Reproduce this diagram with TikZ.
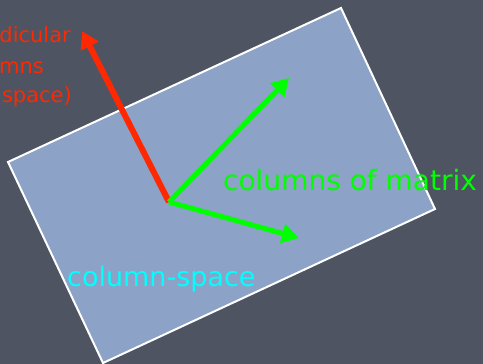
\documentclass[tikz,border=0pt]{standalone}
\usepackage{fontspec}
\setmainfont{DejaVu Sans}
\usetikzlibrary{arrows.meta}
\definecolor{slate}{RGB}{78,84,98}
\definecolor{plane}{RGB}{140,162,198}
\definecolor{redarrow}{RGB}{255,40,0}
\definecolor{brightgreen}{RGB}{0,255,0}
\definecolor{brightcyan}{RGB}{0,255,255}
\tikzset{
  vec/.style={line width=#1, -{Triangle[length=17pt,width=19pt]}},
  lbl/.style={inner sep=0pt},
  redlbl/.style={lbl, text=redarrow, anchor=base east, font=\fontsize{21}{21}\selectfont},
}
\begin{document}
\begin{tikzpicture}[x=1pt,y=-1pt]
\useasboundingbox (0,0) rectangle (483,364);
\clip (0,0) rectangle (483,364);
\fill[slate] (0,0) rectangle (483,364);
\coordinate (L) at (8,162);
\coordinate (T) at (341,8);
\coordinate (R) at (435,209);
\coordinate (B) at (103,363);
\filldraw[fill=plane, draw=white, line width=2pt] (L) -- (T) -- (R) -- (B) -- cycle;
\coordinate (O) at (169,202);
\coordinate (Pr) at (82,31);
\coordinate (C1) at (289,78);
\coordinate (C2) at (299,238);
\draw[vec=6pt, redarrow] (O) -- (Pr);
\draw[vec=5pt, brightgreen] (O) -- (C1);
\draw[vec=5pt, brightgreen] (O) -- (C2);
\node[redlbl] (t1) at (71,42) {perpendicular};
\node[redlbl] (t2) at (44,73) {to columns};
\node[redlbl] (t3) at (72,102) {(left null space)};
\node[lbl, text=brightgreen, anchor=base west, font=\fontsize{28}{28}\selectfont] (cm) at (223,190) {columns of matrix};
\node[lbl, text=brightcyan, anchor=base west, font=\fontsize{27}{27}\selectfont] (cs) at (67,286) {column-space};
\end{tikzpicture}
\end{document}
